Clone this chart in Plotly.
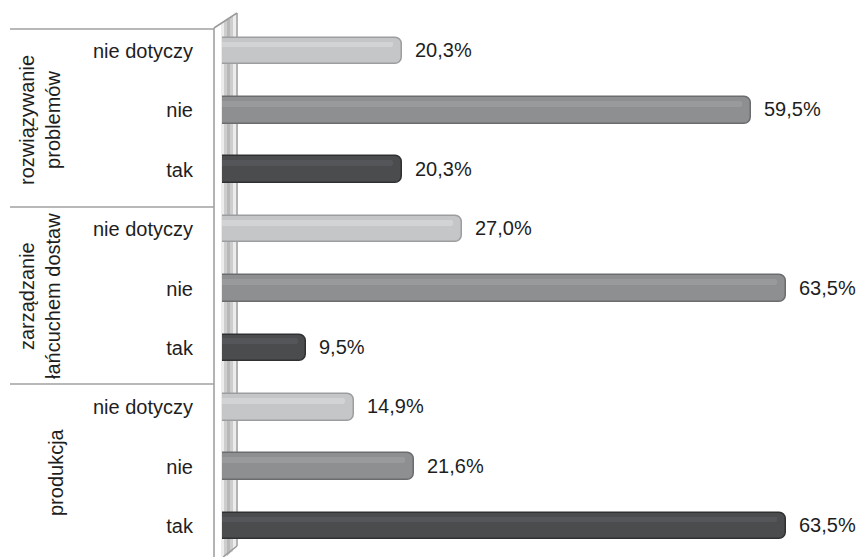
import plotly.graph_objects as go

# Survey answers per business area (share of respondents, %)
groups = ["produkcja", "zarządzanie<br>łańcuchem dostaw", "rozwiązywanie<br>problemów"]
answers = ["tak", "nie", "nie dotyczy"]
tak_values = [63.5, 9.5, 20.3]
nie_values = [21.6, 63.5, 59.5]
nie_dotyczy_values = [14.9, 27.0, 20.3]

series_values = [tak_values, nie_values, nie_dotyczy_values]
fill_colors = ["#4b4c4e", "#8e8f91", "#c5c6c8"]
edge_colors = ["#2f3032", "#6b6c6e", "#9c9d9f"]
shine_colors = ["#55565a", "#999a9c", "#d2d3d5"]

W, H = 858, 557
FONT = "Liberation Sans, Arial, sans-serif"
FS = 20

fig = go.Figure()

for a, name in enumerate(answers):
    ys = [g * 3 + a for g in range(len(groups))]
    vals = series_values[a]
    # bar body: starts left of the axis so the left rounding is hidden by clipping
    fig.add_trace(go.Bar(
        orientation="h", y=ys, x=[v + 2 for v in vals], base=-2,
        width=0.45, marker=dict(color=fill_colors[a], cornerradius=7,
                                line=dict(color=edge_colors[a], width=1.5)),
        showlegend=False, hoverinfo="skip"))
    # soft sheen along the upper part of the bar
    fig.add_trace(go.Bar(
        orientation="h", y=ys, x=[v + 2 - 1.0 for v in vals], base=-2,
        width=0.1, offset=0.06,
        marker=dict(color=shine_colors[a], cornerradius=3, line=dict(width=0)),
        showlegend=False, hoverinfo="skip"))
    for v, y in zip(vals, ys):
        fig.add_annotation(x=v, y=y, xref="x", yref="y", xanchor="left",
                           xshift=11, yshift=1, showarrow=False,
                           text=f"{v:.1f}%".replace(".", ","),
                           font=dict(family=FONT, size=FS, color="#1e1e1e"))

tickvals = [g * 3 + a for g in range(len(groups)) for a in range(len(answers))]
ticktext = [answers[a] for g in range(len(groups)) for a in range(len(answers))]

# rotated group labels on the left
group_label_pos = [(56, 472), (40, 296), (40, 120)]
for label, (px, py) in zip(groups, group_label_pos):
    fig.add_annotation(x=px / W, y=1 - py / H, xref="paper", yref="paper",
                       text=label, textangle=-90, showarrow=False,
                       xanchor="center", yanchor="middle",
                       font=dict(family=FONT, size=FS, color="#1e1e1e"))

shapes = []
def px_line(x0, y0, x1, y1, color="#9a9a9a", width=1.5):
    shapes.append(dict(type="line", xref="paper", yref="paper",
                       x0=x0 / W, y0=1 - y0 / H, x1=x1 / W, y1=1 - y1 / H,
                       line=dict(color=color, width=width), layer="below"))

def px_path(points, color):
    d = "M " + " L ".join(f"{x / W:.5f},{1 - y / H:.5f}" for x, y in points) + " Z"
    shapes.append(dict(type="path", xref="paper", yref="paper", path=d,
                       fillcolor=color, line=dict(width=0), layer="below"))

# side wall with soft shading
px_path([(221, 24), (236, 15), (236, 548), (221, 557)], "#ececec")
px_path([(224, 22), (233, 16), (233, 551), (224, 557)], "#cdcdcd")
px_path([(227, 20), (230, 18), (230, 553), (227, 556)], "#b8b8b8")
px_line(214, 28, 214, 557)
px_line(237, 13, 237, 546)
px_line(214, 28, 237, 13)
px_line(223, 557, 237, 546)

# group separators
for yy in (29, 207, 384):
    px_line(10, yy, 214, yy, color="#a0a0a0", width=1.5)

fig.update_layout(
    width=W, height=H, autosize=False,
    margin=dict(l=0, r=0, t=0, b=0),
    paper_bgcolor="white", plot_bgcolor="rgba(0,0,0,0)",
    barmode="overlay", bargap=0,
    shapes=shapes,
    xaxis=dict(domain=[222 / W, 1], range=[0, 71.6], visible=False, fixedrange=True),
    yaxis=dict(domain=[0, 1], range=[-0.522, 8.859], tickvals=tickvals,
               ticktext=ticktext, showgrid=False, zeroline=False, showline=False,
               ticks="", ticklabelstandoff=28,
               tickfont=dict(family=FONT, size=FS, color="#1e1e1e")),
)

fig.write_html("out.html")
